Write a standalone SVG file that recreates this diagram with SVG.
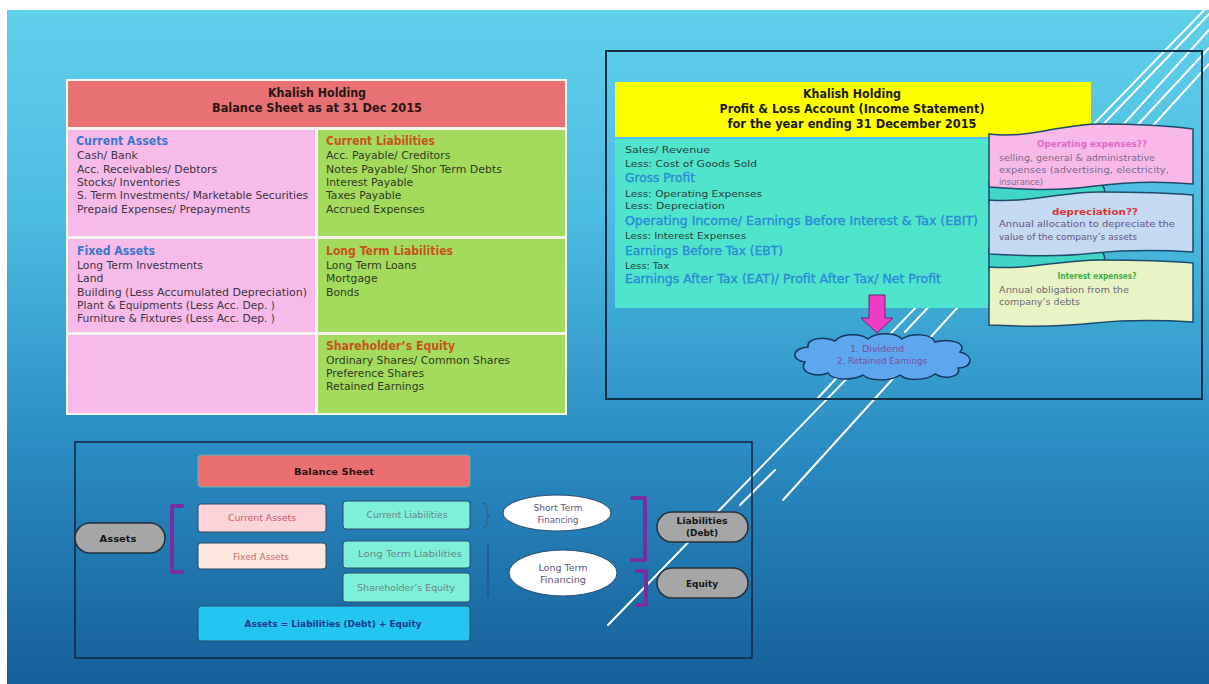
<svg xmlns="http://www.w3.org/2000/svg" width="1209" height="684" viewBox="0 0 1209 684">
<defs>
<linearGradient id="bg" x1="0" y1="0" x2="0" y2="1">
<stop offset="0" stop-color="#5fd0ea"/>
<stop offset="0.3" stop-color="#4cbde2"/>
<stop offset="0.65" stop-color="#2a8cc2"/>
<stop offset="1" stop-color="#175f98"/>
</linearGradient>
<style>
text{font-family:"DejaVu Sans","Liberation Sans",sans-serif;}
.hd{font-weight:bold;font-size:12px;fill:#2a1515;text-anchor:middle;}
.cb{font-weight:bold;font-size:11.5px;fill:#3a76cc;}
.co{font-weight:bold;font-size:11.5px;fill:#c8521c;}
.it{font-size:10.8px;fill:#3b3444;}
.itg{font-size:10.8px;fill:#2f3a24;}
.ph{font-weight:bold;font-size:11.5px;fill:#1c1c10;text-anchor:middle;}
.pl{font-size:9.5px;fill:#2c3c3c;}
.pb{font-size:12px;fill:#2a8ad4;stroke:#2a8ad4;stroke-width:0.35;}
.bt{font-size:8.6px;fill:#7a6a8e;}
.deco{stroke:#ffffff;stroke-width:2;fill:none;stroke-linecap:round;}
.box{stroke:#2a4a66;stroke-width:1;}
.bx{font-size:8.5px;text-anchor:middle;}
.pill{fill:#a6a6a6;stroke:#22303e;stroke-width:1.5;}
.pt{font-weight:bold;font-size:9.5px;fill:#141414;text-anchor:middle;}
.ell{fill:#ffffff;stroke:#2a4a6a;stroke-width:1;}
.et{font-size:8.5px;fill:#5a5a78;text-anchor:middle;}
.brk{fill:none;stroke:#7a2ca2;stroke-width:4;stroke-linejoin:round;stroke-linecap:round;}
.ban{stroke:#1e4a6a;stroke-width:1.5;}
</style>
</defs>
<rect x="0" y="0" width="1209" height="684" fill="#ffffff"/>
<rect x="7" y="10" width="1202" height="674" fill="url(#bg)"/>
<g id="decor">
<line class="deco" x1="1214" y1="0" x2="608" y2="625" stroke-width="1.6"/>
<line class="deco" x1="1209" y1="30" x2="783" y2="500"/>
<line class="deco" x1="1209" y1="14" x2="1092" y2="136" stroke-width="1.6"/>
<line class="deco" x1="1209" y1="48" x2="1118" y2="146" stroke-width="1.6"/>
<line class="deco" x1="1209" y1="64" x2="1140" y2="140" stroke-width="1.6"/>
<line class="deco" x1="935" y1="300" x2="905" y2="332" stroke-width="1.6"/>
<line class="deco" x1="842" y1="372" x2="818" y2="398" stroke-width="1.6"/>
<line class="deco" x1="775" y1="470" x2="740" y2="505" stroke-width="1.6"/>
</g>
<g id="balance-sheet-table">
<rect x="66" y="79" width="501" height="336" fill="#f4f4f4"/>
<rect x="68" y="81" width="497" height="46" fill="#e87272"/>
<text class="hd" x="317" y="97" textLength="98" lengthAdjust="spacingAndGlyphs">Khalish Holding</text>
<text class="hd" x="317" y="112" textLength="210" lengthAdjust="spacingAndGlyphs">Balance Sheet as at 31 Dec 2015</text>
<rect x="68" y="130" width="247" height="106" fill="#f8bbe9"/>
<rect x="318" y="130" width="247" height="106" fill="#a3dc5c"/>
<rect x="68" y="239" width="247" height="93" fill="#f8bbe9"/>
<rect x="318" y="239" width="247" height="93" fill="#a3dc5c"/>
<rect x="68" y="335" width="247" height="78" fill="#f8bbe9"/>
<rect x="318" y="335" width="247" height="78" fill="#a3dc5c"/>
<g id="current-assets">
<text class="cb" x="76" y="145" textLength="92" lengthAdjust="spacingAndGlyphs">Current Assets</text>
<text class="it" x="77" y="159">Cash/ Bank</text>
<text class="it" x="77" y="173">Acc. Receivables/ Debtors</text>
<text class="it" x="77" y="186">Stocks/ Inventories</text>
<text class="it" x="77" y="199" textLength="231" lengthAdjust="spacingAndGlyphs">S. Term  Investments/ Marketable Securities</text>
<text class="it" x="77" y="213">Prepaid Expenses/ Prepayments</text>
</g>
<g id="fixed-assets">
<text class="cb" x="77" y="255" textLength="78" lengthAdjust="spacingAndGlyphs">Fixed Assets</text>
<text class="it" x="77" y="269">Long Term  Investments</text>
<text class="it" x="77" y="282">Land</text>
<text class="it" x="77" y="296" textLength="230" lengthAdjust="spacingAndGlyphs">Building (Less Accumulated Depreciation)</text>
<text class="it" x="77" y="309" textLength="198" lengthAdjust="spacingAndGlyphs">Plant &amp; Equipments  (Less Acc. Dep. )</text>
<text class="it" x="77" y="322" textLength="198" lengthAdjust="spacingAndGlyphs">Furniture &amp; Fixtures  (Less Acc. Dep. )</text>
</g>
<g id="current-liabilities">
<text class="co" x="326" y="145" textLength="109" lengthAdjust="spacingAndGlyphs">Current Liabilities</text>
<text class="itg" x="326" y="159">Acc. Payable/ Creditors</text>
<text class="itg" x="326" y="173" textLength="176" lengthAdjust="spacingAndGlyphs">Notes Payable/ Shor Term  Debts</text>
<text class="itg" x="326" y="186">Interest Payable</text>
<text class="itg" x="326" y="199">Taxes  Payable</text>
<text class="itg" x="326" y="213">Accrued Expenses</text>
</g>
<g id="long-term-liabilities">
<text class="co" x="326" y="255" textLength="127" lengthAdjust="spacingAndGlyphs">Long Term Liabilities</text>
<text class="itg" x="326" y="269">Long Term  Loans</text>
<text class="itg" x="326" y="282">Mortgage</text>
<text class="itg" x="326" y="296">Bonds</text>
</g>
<g id="shareholders-equity">
<text class="co" x="326" y="350" textLength="129" lengthAdjust="spacingAndGlyphs">Shareholder’s Equity</text>
<text class="itg" x="326" y="364" textLength="184" lengthAdjust="spacingAndGlyphs">Ordinary Shares/ Common  Shares</text>
<text class="itg" x="326" y="377">Preference Shares</text>
<text class="itg" x="326" y="390">Retained Earnings</text>
</g>
</g>
<g id="profit-loss">
<rect x="606" y="51" width="596" height="348" fill="none" stroke="#13304a" stroke-width="2"/>
<rect x="615" y="82" width="476" height="55" fill="#ffff00"/>
<text class="ph" x="852" y="98" textLength="98" lengthAdjust="spacingAndGlyphs">Khalish Holding</text>
<text class="ph" x="852" y="113" textLength="265" lengthAdjust="spacingAndGlyphs">Profit &amp; Loss Account (Income Statement)</text>
<text class="ph" x="852" y="128" textLength="249" lengthAdjust="spacingAndGlyphs">for the year ending 31 December 2015</text>
<rect x="615" y="139" width="380" height="169" fill="#4fe4cc"/>
<text class="pl" x="625" y="153" textLength="85" lengthAdjust="spacingAndGlyphs">Sales/ Revenue</text>
<text class="pl" x="625" y="167" textLength="132" lengthAdjust="spacingAndGlyphs">Less: Cost of Goods Sold</text>
<text class="pb" x="625" y="182" textLength="70" lengthAdjust="spacingAndGlyphs">Gross Profit</text>
<text class="pl" x="625" y="197" textLength="137" lengthAdjust="spacingAndGlyphs">Less: Operating Expenses</text>
<text class="pl" x="625" y="209" textLength="100" lengthAdjust="spacingAndGlyphs">Less: Depreciation</text>
<text class="pb" x="625" y="225" textLength="353" lengthAdjust="spacingAndGlyphs">Operating Income/ Earnings Before Interest &amp; Tax (EBIT)</text>
<text class="pl" x="625" y="239" textLength="121" lengthAdjust="spacingAndGlyphs">Less: Interest Expenses</text>
<text class="pb" x="625" y="255" textLength="158" lengthAdjust="spacingAndGlyphs">Earnings Before Tax (EBT)</text>
<text class="pl" x="625" y="269" textLength="44" lengthAdjust="spacingAndGlyphs">Less: Tax</text>
<text class="pb" x="625" y="283" textLength="316" lengthAdjust="spacingAndGlyphs">Earnings After Tax (EAT)/ Profit After Tax/ Net Profit</text>
</g>
<g id="notes">
<path d="M989,182 L1098,182 C1108,188 1106,197 1096,199 L989,203 Z" fill="#3fd6c8" class="ban"/>
<path d="M989,249 L1098,249 C1108,255 1106,264 1096,266 L989,270 Z" fill="#3fd6c8" class="ban"/>
<g id="note-operating">
<path class="ban" fill="#f9b9e8" d="M989,134 C1030,139 1060,124 1100,124 C1140,124 1170,126 1193,129 L1193,184 C1160,181 1125,182 1095,186 C1060,191 1030,190 989,187 Z"/>
<text class="bt" x="1092" y="147" text-anchor="middle" font-weight="bold" style="fill:#e06ac8" textLength="110" lengthAdjust="spacingAndGlyphs">Operating expenses??</text>
<text class="bt" x="999" y="161" textLength="156" lengthAdjust="spacingAndGlyphs">selling, general &amp; administrative</text>
<text class="bt" x="999" y="173" textLength="170" lengthAdjust="spacingAndGlyphs">expenses  (advertising, electricity,</text>
<text class="bt" x="999" y="185" textLength="44" lengthAdjust="spacingAndGlyphs">insurance)</text>
</g>
<g id="note-depreciation">
<path class="ban" fill="#c4daf2" d="M989,200 C1030,203 1060,192 1100,192 C1140,192 1170,193 1193,195 L1193,252 C1160,250 1125,250 1095,253 C1060,257 1030,256 989,254 Z"/>
<text class="bt" x="1095" y="215" text-anchor="middle" font-weight="bold" style="fill:#e03434" textLength="86" lengthAdjust="spacingAndGlyphs">depreciation??</text>
<text class="bt" x="999" y="227" style="fill:#6a5484" textLength="176" lengthAdjust="spacingAndGlyphs">Annual allocation to depreciate  the</text>
<text class="bt" x="999" y="240" style="fill:#6a5484" textLength="138" lengthAdjust="spacingAndGlyphs">value of the company’s assets</text>
</g>
<g id="note-interest">
<path class="ban" fill="#e9f4c4" d="M989,267 C1030,270 1060,260 1100,260 C1140,260 1170,261 1193,263 L1193,322 C1160,320 1125,320 1095,323 C1060,327 1030,327 989,325 Z"/>
<text class="bt" x="1097" y="279" text-anchor="middle" font-weight="bold" style="fill:#3cb04a" textLength="79" lengthAdjust="spacingAndGlyphs">Interest expenses?</text>
<text class="bt" x="999" y="293" style="fill:#6e6a78" textLength="130" lengthAdjust="spacingAndGlyphs">Annual obligation from the</text>
<text class="bt" x="999" y="305" style="fill:#6e6a78" textLength="81" lengthAdjust="spacingAndGlyphs">company’s debts</text>
</g>
</g>
<g id="connectors">
<polygon points="869,295 885,295 885,318 893,318 877,333 861,318 869,318" fill="#f03cc4" stroke="#5a2a6a" stroke-width="1"/>
<path d="M482,503 Q487,503 487,509 L487,513 Q487,516 490,516 Q487,516 487,519 L487,523 Q487,528 482,528" fill="none" stroke="#3c5a78" stroke-width="1"/>
<line x1="488" y1="543" x2="488" y2="597" stroke="#2a4a6a" stroke-width="1"/>
<path class="brk" d="M182,506 L172,506 L172,572 L182,572"/>
<path class="brk" d="M632,498 L645,498 L645,560 L632,560"/>
<path class="brk" d="M637,571 L646,571 L646,605 L637,605"/>
</g>
<g id="cloud">
<path d="M805,362 C790,360 792,348 808,347 C806,338 825,336 835,341 C842,333 860,333 868,339 C876,332 895,332 902,339 C912,332 932,334 935,342 C950,338 968,343 960,352 C975,356 972,368 958,368 C962,377 945,380 935,374 C926,381 906,381 900,375 C890,382 870,381 863,375 C852,381 832,380 828,373 C815,378 798,372 805,362 Z" fill="#5ea6ee" stroke="#16365e" stroke-width="1.5"/>
<text x="877" y="352" font-size="8.8" fill="#7a4ea4" text-anchor="middle" textLength="54" lengthAdjust="spacingAndGlyphs">1. Dividend</text>
<text x="882" y="364" font-size="8.8" fill="#7a4ea4" text-anchor="middle" textLength="90" lengthAdjust="spacingAndGlyphs">2. Retained Earnings</text>
</g>
<g id="bottom-summary">
<rect x="75" y="442" width="677" height="216" fill="none" stroke="#13253c" stroke-width="1.5"/>
<g id="bs-title">
<rect x="198" y="455" width="272" height="32" rx="3" fill="#ea7070" stroke="#5fb4b0" stroke-width="1"/>
<text x="334" y="475" font-size="9.5" font-weight="bold" fill="#2a1414" text-anchor="middle" textLength="80" lengthAdjust="spacingAndGlyphs">Balance Sheet</text>
</g>
<g id="bs-current-assets">
<rect class="box" x="198" y="504" width="128" height="28" rx="3" fill="#fcd3d8"/>
<text class="bx" x="262" y="521" fill="#d25c6c" textLength="68" lengthAdjust="spacingAndGlyphs">Current Assets</text>
</g>
<g id="bs-fixed-assets">
<rect class="box" x="198" y="543" width="128" height="26" rx="3" fill="#fde6dc"/>
<text class="bx" x="261" y="560" fill="#d26a6a" textLength="56" lengthAdjust="spacingAndGlyphs">Fixed Assets</text>
</g>
<g id="bs-current-liabilities">
<rect class="box" x="343" y="501" width="127" height="28" rx="3" fill="#7ef0da"/>
<text class="bx" x="407" y="518" fill="#6a8484" textLength="81" lengthAdjust="spacingAndGlyphs">Current Liabilities</text>
</g>
<g id="bs-long-term-liabilities">
<rect class="box" x="343" y="541" width="127" height="27" rx="3" fill="#7ef0da"/>
<text class="bx" x="410" y="557" fill="#6a8484" textLength="104" lengthAdjust="spacingAndGlyphs">Long Term Liabilities</text>
</g>
<g id="bs-shareholders-equity">
<rect class="box" x="343" y="573" width="127" height="29" rx="3" fill="#7ef0da"/>
<text class="bx" x="406" y="591" fill="#6a8484" textLength="98" lengthAdjust="spacingAndGlyphs">Shareholder’s Equity</text>
</g>
<g id="bs-equation">
<rect class="box" x="198" y="606" width="272" height="35" rx="3" fill="#22c6f0"/>
<text x="333" y="627" font-size="9.5" font-weight="bold" fill="#1a3a8a" text-anchor="middle" textLength="177" lengthAdjust="spacingAndGlyphs">Assets = Liabilities (Debt) + Equity</text>
</g>
<g id="pill-assets">
<rect class="pill" x="75" y="523" width="90" height="30" rx="15"/>
<text class="pt" x="118" y="542" textLength="37" lengthAdjust="spacingAndGlyphs">Assets</text>
</g>
<g id="ellipse-short">
<ellipse class="ell" cx="557" cy="513" rx="54" ry="18"/>
<text class="et" x="558" y="511" textLength="49" lengthAdjust="spacingAndGlyphs">Short Term</text>
<text class="et" x="558" y="523" textLength="41" lengthAdjust="spacingAndGlyphs">Financing</text>
</g>
<g id="ellipse-long">
<ellipse class="ell" cx="563" cy="573" rx="54" ry="23"/>
<text class="et" x="563" y="571" textLength="49" lengthAdjust="spacingAndGlyphs">Long Term</text>
<text class="et" x="563" y="583" textLength="46" lengthAdjust="spacingAndGlyphs">Financing</text>
</g>
<g id="pill-liabilities">
<rect class="pill" x="657" y="512" width="91" height="30" rx="15"/>
<text class="pt" x="702" y="524" textLength="51" lengthAdjust="spacingAndGlyphs">Liabilities</text>
<text class="pt" x="702" y="536" textLength="32" lengthAdjust="spacingAndGlyphs">(Debt)</text>
</g>
<g id="pill-equity">
<rect class="pill" x="657" y="568" width="91" height="30" rx="15"/>
<text class="pt" x="702" y="587" textLength="32" lengthAdjust="spacingAndGlyphs">Equity</text>
</g>
</g>
</svg>
